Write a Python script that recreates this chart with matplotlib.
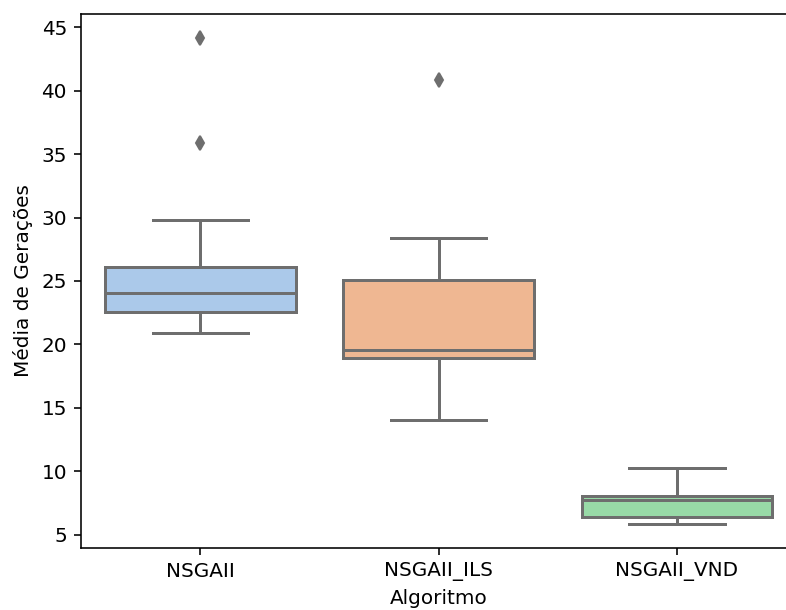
import colorsys
import numpy as np
import matplotlib
matplotlib.use('agg')
import matplotlib.pyplot as plt
import matplotlib.colors as mcolors

# box statistics
algoritmos = ["NSGAII", "NSGAII_ILS", "NSGAII_VND"]
whisker_low = [20.94, 14.01, 5.87]
q1 = [22.55, 18.94, 6.37]
medianas = [24.03, 19.60, 7.77]
q3 = [26.11, 25.08, 8.08]
whisker_high = [29.82, 28.37, 10.24]
outliers = [[44.13, 35.88], [40.83], []]

pastel = ["#a1c9f4", "#ffb482", "#8de5a1"]


def desaturate(color, prop=0.75):
  h, l, s = colorsys.rgb_to_hls(*mcolors.to_rgb(color))
  return colorsys.hls_to_rgb(h, l, s * prop)


stats = []
for i, nome in enumerate(algoritmos):
  stats.append({
    "label": nome,
    "whislo": whisker_low[i],
    "q1": q1[i],
    "med": medianas[i],
    "q3": q3[i],
    "whishi": whisker_high[i],
    "fliers": outliers[i],
  })

gray = "#6e6e6e"
dpi = 144
fig = plt.figure(figsize=(786 / dpi, 610 / dpi), dpi=dpi)
ax = fig.add_axes([81 / 786, 62 / 610, 715 / 786, 534 / 610])

bp = ax.bxp(stats, positions=np.arange(len(algoritmos)), widths=0.8,
            patch_artist=True, showfliers=True,
            boxprops=dict(edgecolor=gray, linewidth=1.5),
            medianprops=dict(color=gray, linewidth=1.5),
            whiskerprops=dict(color=gray, linewidth=1.5),
            capprops=dict(color=gray, linewidth=1.5),
            flierprops=dict(marker="d", markerfacecolor=gray, markeredgecolor=gray,
                            markersize=5, linestyle="none"))
for patch, c in zip(bp["boxes"], pastel):
  patch.set_facecolor(desaturate(c))

ax.set_xlim(-0.5, 2.5)
ax.set_ylim(3.96, 46.04)
ax.set_yticks([5, 10, 15, 20, 25, 30, 35, 40, 45])
ax.set_xlabel("Algoritmo")
ax.set_ylabel("Média de Gerações")

fig.savefig("out.png", dpi=dpi)
